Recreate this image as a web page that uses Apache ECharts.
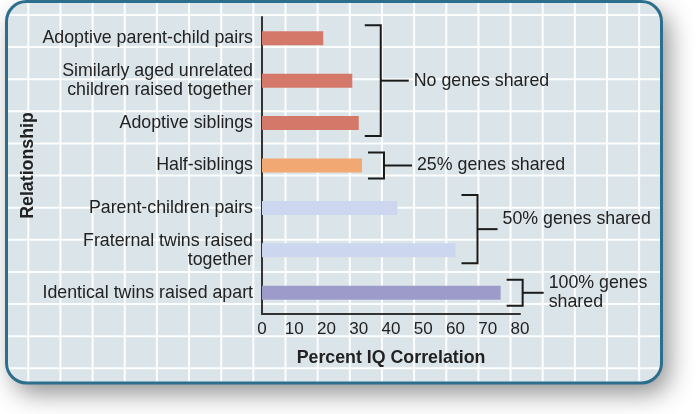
<!DOCTYPE html>
<html><head><meta charset="utf-8">
<script src="https://cdn.jsdelivr.net/npm/echarts@6/dist/echarts.min.js"></script>
<style>html,body{margin:0;padding:0;background:#fff}#c{width:700px;height:414px}</style>
</head><body><div id="c"></div>
<script>
const categories = [
  'Adoptive parent-child pairs',
  'Similarly aged unrelated\nchildren raised together',
  'Adoptive siblings',
  'Half-siblings',
  'Parent-children pairs',
  'Fraternal twins raised\ntogether',
  'Identical twins raised apart'
];
const values = [19, 28, 30, 31, 42, 60, 74];
const groupOf = [0, 0, 0, 1, 2, 2, 3];
const groupLabels = ['No genes shared', '25% genes shared', '50% genes shared', '100% genes\nshared'];
const groupColors = ['#d4796a', '#f1a872', '#cdd6ef', '#9c9bc9'];
const xMin = 0, xMax = 80, xStep = 10;

const FONT = '"Liberation Sans", Arial, Helvetica, sans-serif';
const chart = echarts.init(document.getElementById('c'), null, {renderer: 'canvas'});

// decorative background panel with light grid-paper lines
const box = {x: 6.5, y: 1.5, w: 655, h: 381.5, r: 20};
const bg = [];
bg.push({type: 'rect', z: -30, silent: true,
  shape: {x: box.x, y: box.y, width: box.w, height: box.h, r: box.r},
  style: {fill: '#dbe5e9', shadowBlur: 26, shadowOffsetX: 7, shadowOffsetY: 10, shadowColor: 'rgba(0,0,0,0.45)'}});
function cornerCut(d) {
  if (d >= box.r) return 0;
  const t = box.r - d;
  return box.r - Math.sqrt(box.r * box.r - t * t);
}
for (let k = 0; k < 30; k++) {
  const x = 28.3 + 32.15 * k;
  if (x > box.x + box.w - 2) break;
  const c = cornerCut(Math.min(x - box.x, box.x + box.w - x));
  bg.push({type: 'line', z: -29, silent: true,
    shape: {x1: x, y1: box.y + 1.5 + c, x2: x, y2: box.y + box.h - 1.5 - c},
    style: {stroke: 'rgba(255,255,255,0.9)', lineWidth: 2}});
}
for (let k = 0; k < 30; k++) {
  const y = 15 + 32.12 * k;
  if (y > box.y + box.h - 2) break;
  const c = cornerCut(Math.min(y - box.y, box.y + box.h - y));
  bg.push({type: 'line', z: -29, silent: true,
    shape: {x1: box.x + 1.5 + c, y1: y, x2: box.x + box.w - 1.5 - c, y2: y},
    style: {stroke: 'rgba(255,255,255,0.9)', lineWidth: 2}});
}
bg.push({type: 'rect', z: -28, silent: true,
  shape: {x: box.x, y: box.y, width: box.w, height: box.h, r: box.r},
  style: {fill: null, stroke: '#2b6f8d', lineWidth: 3}});

// bracket groups built from the arrays above
const groups = groupLabels.map((g, gi) => {
  const idx = categories.map((_, j) => j).filter(j => groupOf[j] === gi);
  return [Math.max(...idx.map(j => values[j])), idx[0], idx[idx.length - 1], gi];
});
const stemLen = [28, 28, 20, 21];
const labelShift = [0, 0, -10, 0];

chart.setOption({
  animation: false,
  backgroundColor: '#ffffff',
  graphic: {elements: bg},
  grid: {left: 262, top: 17, width: 258, height: 297, containLabel: false},
  xAxis: {
    type: 'value', min: xMin, max: xMax, interval: xStep,
    axisLine: {show: true, lineStyle: {color: '#333', width: 2}},
    axisTick: {show: false},
    splitLine: {show: false},
    axisLabel: {color: '#222', fontSize: 17, fontFamily: FONT, margin: 7},
    name: 'Percent IQ Correlation', nameLocation: 'middle', nameGap: 35,
    nameTextStyle: {color: '#222', fontSize: 17.8, fontWeight: 'bold', fontFamily: FONT}
  },
  yAxis: {
    type: 'category', data: categories, inverse: true,
    axisLine: {show: true, lineStyle: {color: '#333', width: 2}},
    axisTick: {show: false},
    splitLine: {show: false},
    axisLabel: {color: '#222', fontSize: 17.8, fontFamily: FONT, margin: 9, lineHeight: 19, align: 'right'},
    name: 'Relationship', nameLocation: 'middle', nameRotate: 90, nameGap: 225,
    nameTextStyle: {color: '#222', fontSize: 17.8, fontWeight: 'bold', fontFamily: FONT}
  },
  series: [
    {
      type: 'bar', barWidth: 14, silent: true, z: 3,
      data: values.map((v, i) => ({value: v, itemStyle: {color: groupColors[groupOf[i]]}}))
    },
    {
      type: 'custom', silent: true, z: 5, clip: false,
      encode: {x: 0, y: 1},
      data: groups,
      renderItem: function (params, api) {
        const mx = api.value(0), s = api.value(1), e = api.value(2), g = api.value(3);
        const p = api.coord([mx, s]);
        const q = api.coord([mx, e]);
        const x = p[0] + 22;
        const yt = p[1] - 13, yb = q[1] + 13, ym = (yt + yb) / 2;
        const st = stemLen[g];
        return {type: 'group', children: [
          {type: 'polyline', shape: {points: [[x - 16, yt], [x, yt], [x, yb], [x - 16, yb]]},
           style: {stroke: '#1a1a1a', lineWidth: 2, fill: null}},
          {type: 'line', shape: {x1: x, y1: ym, x2: x + st, y2: ym},
           style: {stroke: '#1a1a1a', lineWidth: 2}},
          {type: 'text', style: {x: x + st + 5, y: ym + labelShift[g], text: groupLabels[g],
            fill: '#222', fontSize: 17.8, fontFamily: FONT, align: 'left', verticalAlign: 'middle', lineHeight: 19}}
        ]};
      }
    }
  ]
});
</script>
</body></html>
